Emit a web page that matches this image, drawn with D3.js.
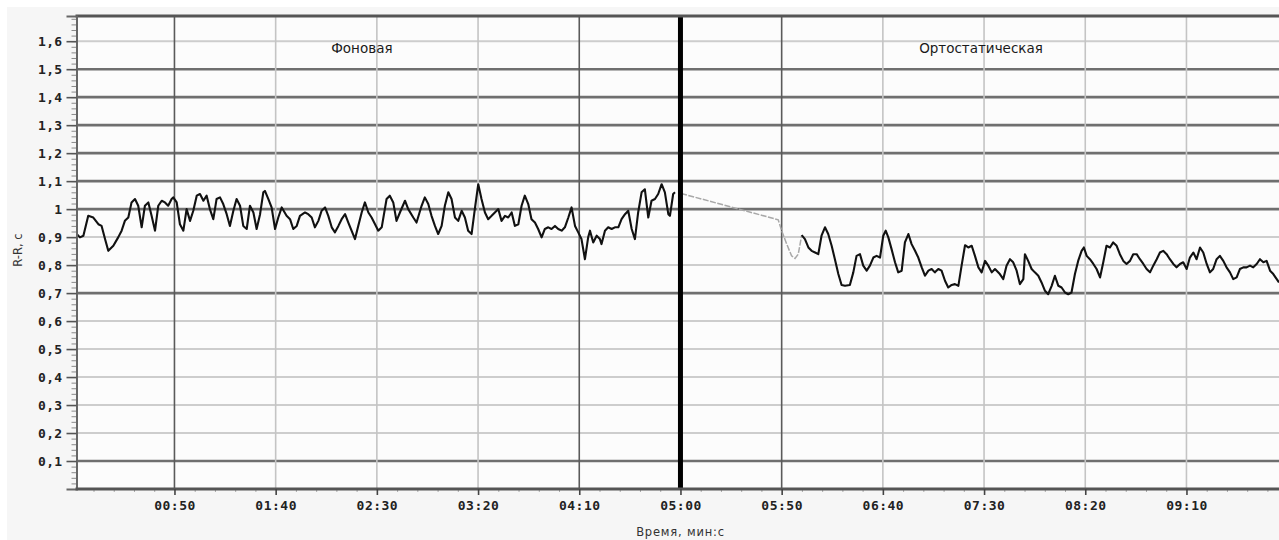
<!DOCTYPE html>
<html><head><meta charset="utf-8">
<script src="https://cdn.jsdelivr.net/npm/d3@7"></script>
<style>body{margin:0;background:#fff}svg{display:block}</style>
</head><body><svg id="c" width="1279" height="540"></svg>
<script>
// ---- data ----
const xTickValues = [50,100,150,200,250,300,350,400,450,500,550];
const yTickValues = [0.1,0.2,0.3,0.4,0.5,0.6,0.7,0.8,0.9,1.0,1.1,1.2,1.3,1.4,1.5,1.6];
const phaseNames = ["Фоновая","Ортостатическая"];
const phaseCenters = [142.6, 448.5];   // seconds (label centre)
const phaseBoundary = 300;         // 05:00
const bgTimes = [1.7,3.3,5.0,7.4,9.9,12.4,14.0,15.7,17.3,19.8,22.2,23.9,25.5,27.2,28.8,30.5,32.1,33.8,35.4,37.1,38.7,40.4,42.0,43.7,45.3,46.9,48.6,49.4,51.1,52.7,54.4,56.0,57.7,59.3,61.0,62.6,64.3,65.9,67.5,69.2,70.8,72.5,74.1,75.8,77.4,79.1,80.7,82.4,84.0,85.7,87.3,89.0,90.6,92.3,93.9,94.7,96.4,98.0,99.7,101.3,103.0,105.4,107.1,108.7,110.4,112.0,114.5,116.1,117.8,119.4,121.1,122.7,124.4,126.0,127.7,129.3,131.0,132.6,134.3,135.9,137.5,139.2,140.8,142.5,144.1,145.8,147.4,149.1,150.7,152.4,154.8,156.4,158.1,159.7,161.4,163.9,165.5,168.0,169.6,172.1,173.7,175.4,177.0,178.7,180.3,182.0,183.6,185.3,186.9,188.6,190.2,191.9,193.5,195.1,196.8,198.4,200.1,201.7,203.4,205.0,206.7,208.3,210.0,211.6,213.3,214.9,216.6,218.2,219.9,221.5,223.1,224.8,226.4,228.1,229.7,231.4,233.0,234.7,236.3,238.0,239.6,241.3,242.9,244.6,246.2,247.9,249.5,251.1,252.8,254.4,255.3,256.9,258.6,260.2,261.0,262.7,264.3,266.0,267.6,269.3,270.9,272.6,274.2,275.9,277.5,279.1,280.8,282.4,284.1,285.7,287.4,289.0,290.7,292.3,294.0,294.8,296.4,297.3];
const bgValues = [.911,.899,.905,.976,.970,.946,.940,.893,.851,.869,.899,.923,.958,.970,1.024,1.036,1.012,.935,1.012,1.024,.976,.923,1.012,1.030,1.024,1.012,1.036,1.042,1.024,.946,.923,1.000,.958,.994,1.048,1.054,1.030,1.048,1.000,.964,1.036,1.042,1.018,.982,.940,.994,1.036,1.012,.940,.929,1.012,.988,.929,.982,1.060,1.065,1.036,1.006,.929,.970,1.006,.976,.964,.929,.940,.976,.988,.982,.970,.935,.958,.994,1.006,.976,.935,.917,.940,.964,.982,.952,.923,.893,.940,.988,1.024,.988,.970,.946,.923,.935,1.036,1.048,1.024,.958,.988,1.030,1.000,.970,.952,1.012,1.042,1.018,.976,.940,.911,.940,1.012,1.060,1.036,.970,.958,.994,.970,.923,.911,1.000,1.089,1.036,.988,.964,.976,.988,1.000,.958,.976,.970,.988,.940,.946,1.012,1.048,1.018,.964,.952,.929,.899,.929,.935,.929,.940,.929,.923,.935,.970,1.006,.940,.917,.893,.821,.899,.923,.881,.905,.893,.875,.923,.935,.929,.935,.935,.964,.982,.994,.929,.893,.988,1.060,1.071,.970,1.030,1.036,1.054,1.089,1.060,.982,.976,1.054,1.060];
const transTimes = [300.3,348.3,350.0,352.5,354.9,356.6,358.2,359.9];
const transValues = [1.056,.962,.923,.875,.833,.824,.839,.907];
const orthoTimes = [359.9,361.5,363.2,364.8,366.5,368.1,369.7,371.4,373.0,374.7,376.3,378.0,379.6,381.3,383.7,385.4,387.0,388.7,390.3,392.0,393.6,395.3,396.9,398.6,400.2,401.4,402.7,404.3,406.0,407.6,409.3,410.9,412.6,414.2,415.9,417.5,419.2,420.8,422.5,424.1,425.7,427.4,429.0,430.7,432.3,434.0,435.6,437.3,438.9,440.6,442.2,443.9,445.5,447.2,448.8,450.5,452.1,453.8,455.4,457.8,459.5,461.1,462.8,464.4,466.1,467.7,469.4,470.2,471.8,473.5,475.1,476.8,478.4,480.1,481.7,483.4,485.0,486.7,488.3,490.0,491.6,493.2,494.9,496.5,498.2,499.3,500.7,502.3,504.0,505.6,507.3,508.9,510.5,512.2,513.8,515.5,517.1,518.8,520.4,522.1,523.7,525.4,527.0,528.7,530.3,532.0,533.6,535.3,536.9,538.5,540.2,541.8,543.5,545.1,546.8,548.4,550.1,551.7,553.4,555.0,556.7,558.3,560.0,561.6,563.2,564.9,566.5,568.2,569.8,571.5,573.1,574.8,576.4,578.1,579.7,581.4,583.0,584.7,586.3,588.0,589.6,591.3,592.9,594.6,595.7];
const orthoValues = [.907,.893,.863,.851,.845,.839,.905,.935,.911,.869,.821,.768,.729,.726,.729,.774,.833,.839,.798,.780,.798,.827,.833,.827,.905,.923,.899,.857,.810,.774,.780,.881,.911,.875,.851,.827,.792,.762,.780,.786,.774,.786,.780,.744,.720,.729,.732,.726,.798,.871,.863,.869,.833,.792,.774,.815,.798,.774,.786,.768,.750,.798,.821,.810,.780,.732,.750,.839,.815,.786,.774,.762,.738,.708,.696,.726,.762,.726,.720,.702,.696,.702,.768,.815,.851,.863,.833,.821,.804,.786,.756,.810,.869,.863,.881,.869,.839,.815,.804,.815,.839,.839,.821,.804,.786,.774,.798,.821,.845,.851,.839,.821,.804,.792,.804,.810,.786,.827,.845,.821,.863,.845,.804,.774,.786,.821,.833,.815,.792,.774,.750,.756,.786,.792,.792,.798,.792,.804,.821,.810,.815,.780,.768,.750,.738];

// ---- layout ----
const W = 1279, H = 540;
const pLeft = 76.5, pTop = 16, pBottom = 489;
const svg = d3.select("#c");
const x = d3.scaleLinear().domain([1.6, 598]).range([pLeft, pLeft + 596.4 * 2.024]);
const y = d3.scaleLinear().domain([0, 1.69]).range([pBottom, pTop]);

svg.append("rect").attr("x",7).attr("y",7).attr("width",W-7).attr("height",H-7).attr("fill","#f6f6f6");
svg.append("rect").attr("x",pLeft).attr("y",pTop).attr("width",W-pLeft).attr("height",pBottom-pTop).attr("fill","#fcfcfc");

const strongH = new Set([0.1,0.7,1.0,1.1,1.2,1.3,1.4,1.5].map(v=>v.toFixed(1)));
const strongV = new Set([50,250,350]);

const g = svg.append("g");
g.selectAll("line.h").data(yTickValues).join("line")
  .attr("x1",pLeft).attr("x2",W).attr("y1",d=>y(d)).attr("y2",d=>y(d))
  .attr("stroke",d=>strongH.has(d.toFixed(1))?"#6f6f6f":"#cdcdcd")
  .attr("stroke-width",d=>strongH.has(d.toFixed(1))?2.6:2);
g.selectAll("line.v").data(xTickValues.filter(d=>d!==phaseBoundary)).join("line")
  .attr("y1",pTop).attr("y2",pBottom).attr("x1",d=>x(d)).attr("x2",d=>x(d))
  .attr("stroke",d=>strongV.has(d)?"#5a5a5a":"#c4c4c4")
  .attr("stroke-width",1.6);

// series
const line = d3.line().x(d=>x(d[0])).y(d=>y(d[1]));
const zip = (a,b)=>a.map((t,i)=>[t,b[i]]);
svg.append("path").datum(zip(transTimes,transValues)).attr("d",line)
  .attr("fill","none").attr("stroke","#a8a8a8").attr("stroke-width",1.5).attr("stroke-dasharray","6,1.5");
svg.append("path").datum(zip(bgTimes,bgValues)).attr("d",line)
  .attr("fill","none").attr("stroke","#111").attr("stroke-width",2.1).attr("stroke-linejoin","round");
svg.append("path").datum(zip(orthoTimes,orthoValues)).attr("d",line)
  .attr("fill","none").attr("stroke","#111").attr("stroke-width",2.1).attr("stroke-linejoin","round");

// phase boundary
svg.append("line").attr("x1",x(phaseBoundary)).attr("x2",x(phaseBoundary)).attr("y1",pTop).attr("y2",pBottom)
  .attr("stroke","#000").attr("stroke-width",5);

// frame
svg.append("line").attr("x1",pLeft-1).attr("x2",W).attr("y1",pTop).attr("y2",pTop).attr("stroke","#555").attr("stroke-width",3);

// y axis
const fmtY = v => (Math.round(v*10)/10).toString().replace(".",",");
const yMinor = d3.range(2, 169, 2).map(v=>v/100);
const ya = svg.append("g").attr("transform",`translate(${pLeft},0)`);
ya.call(d3.axisLeft(y).tickValues(yMinor).tickSize(5).tickFormat(""));
ya.selectAll(".tick line").attr("stroke","#8a8a8a");
ya.select(".domain").remove();
const ya2 = svg.append("g").attr("transform",`translate(${pLeft},0)`);
ya2.call(d3.axisLeft(y).tickValues(yTickValues).tickSize(10).tickPadding(4).tickFormat(fmtY));
ya2.select(".domain").attr("stroke","#666").attr("stroke-width",2);
ya2.selectAll(".tick line").attr("stroke","#555").attr("stroke-width",1.6);
ya2.selectAll(".tick text").attr("font-family","DejaVu Sans Mono").attr("font-weight","bold")
  .attr("font-size",13).attr("fill","#222").attr("letter-spacing","0.3");

// x axis
const fmtX = t => { const m = Math.floor(t/60), s = t%60; return String(m).padStart(2,"0")+":"+String(s).padStart(2,"0"); };
const xMinor = d3.range(10, 600, 10).filter(d=>d%50!==0);
const xa = svg.append("g").attr("transform",`translate(0,${pBottom})`);
xa.call(d3.axisBottom(x).tickValues(xMinor).tickSize(3).tickFormat(""));
xa.selectAll(".tick line").attr("stroke","#aaa");
xa.select(".domain").remove();
const xa2 = svg.append("g").attr("transform",`translate(0,${pBottom})`);
xa2.call(d3.axisBottom(x).tickValues(xTickValues).tickSize(6).tickPadding(6).tickFormat(fmtX));
xa2.select(".domain").attr("stroke","#555").attr("stroke-width",3).attr("d",`M${pLeft-1},0H${W}`);
xa2.selectAll(".tick line").attr("stroke","#444").attr("stroke-width",1.6);
xa2.selectAll(".tick text").attr("font-family","DejaVu Sans Mono").attr("font-weight","bold")
  .attr("font-size",13).attr("fill","#222").attr("letter-spacing","0.5");

// labels
svg.selectAll("text.phase").data(phaseNames).join("text").attr("class","phase")
  .attr("x",(d,i)=>x(phaseCenters[i])).attr("y",53).attr("text-anchor","middle")
  .attr("font-family","DejaVu Sans").attr("font-size",13.5).attr("fill","#1a1a1a").text(d=>d);
svg.append("text").attr("x",x(phaseBoundary)).attr("y",536).attr("text-anchor","middle")
  .attr("font-family","DejaVu Sans").attr("font-size",11.5).attr("letter-spacing","0.8").attr("fill","#333").text("Время, мин:с");
svg.append("text").attr("transform","translate(22,250) rotate(-90)").attr("text-anchor","middle")
  .attr("font-family","DejaVu Sans").attr("font-size",11.5).attr("fill","#333").text("R-R, с");
</script></body></html>
